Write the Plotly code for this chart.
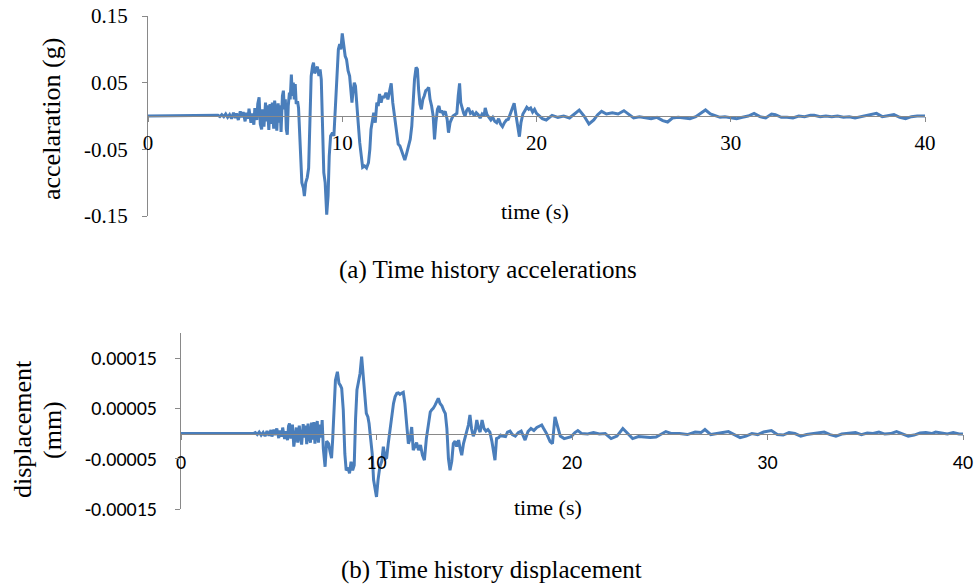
import plotly.graph_objects as go

# ---------------- data ----------------
acc_t = [0, 3.5, 3.6, 3.7, 3.8, 3.9, 4.0, 4.1, 4.2, 4.3, 4.4, 4.5, 4.55, 4.65, 4.75, 4.8,
         4.9, 5.0, 5.05, 5.15, 5.2, 5.3, 5.35, 5.45, 5.5, 5.6, 5.65, 5.72, 5.78, 5.85,
         5.9, 5.97, 6.05, 6.1, 6.15, 6.22, 6.28, 6.35, 6.4, 6.47, 6.52, 6.58, 6.63, 6.7,
         6.75, 6.8, 6.85, 6.92, 6.97, 7.02, 7.07, 7.12, 7.17, 7.22, 7.28, 7.32, 7.38,
         7.43, 7.48, 7.53, 7.58, 7.63, 7.7, 7.75,
         7.85, 7.92, 8.0, 8.05, 8.12, 8.2, 8.27, 8.33, 8.4, 8.47, 8.52, 8.58, 8.65, 8.72,
         8.8, 8.86, 8.92, 8.98, 9.05, 9.12, 9.2, 9.27, 9.33, 9.4, 9.5, 9.57, 9.65, 9.72,
         9.8, 9.87, 9.93, 10.0, 10.07, 10.15, 10.22, 10.3, 10.38, 10.45, 10.5, 10.55,
         10.62, 10.68, 10.75, 10.82, 10.9, 10.98, 11.05, 11.15, 11.25, 11.35, 11.42,
         11.48, 11.55, 11.62, 11.7, 11.78, 11.85, 11.92, 12.0, 12.08, 12.15, 12.25,
         12.35, 12.45, 12.52, 12.6, 12.7, 12.8, 12.88, 12.97, 13.05, 13.13, 13.22, 13.3,
         13.4, 13.5, 13.58, 13.65, 13.72, 13.8, 13.87, 13.93, 14.0, 14.07, 14.15, 14.22,
         14.3, 14.38, 14.45, 14.52, 14.6, 14.68, 14.75, 14.82, 14.9, 14.98, 15.05, 15.12,
         15.2, 15.3, 15.4, 15.47, 15.55, 15.62, 15.7, 15.8, 15.9, 15.97, 16.04, 16.1,
         16.18, 16.25, 16.32, 16.4, 16.5, 16.6, 16.7, 16.8, 16.9, 17.0, 17.1, 17.2, 17.3,
         17.36, 17.45, 17.55, 17.65, 17.75, 17.85, 17.95, 18.05, 18.15, 18.25, 18.35,
         18.45, 18.55, 18.65, 18.75, 18.85, 18.95, 19.05, 19.12, 19.2, 19.3, 19.4, 19.5,
         19.6, 19.7, 19.8, 19.9, 20.0, 20.3, 20.5, 20.8, 21.1, 21.4, 21.7, 22.0, 22.2,
         22.45, 22.7, 22.95, 23.15, 23.35, 23.6, 23.9, 24.2, 24.5, 24.8, 25.0, 25.3, 25.6,
         25.9, 26.2, 26.5, 26.75, 27.0, 27.3, 27.6, 27.9, 28.2, 28.5, 28.7, 28.95, 29.2,
         29.45, 29.7, 30.0, 30.3, 30.6, 30.9, 31.2, 31.5, 31.8, 32.1, 32.3, 32.6, 32.9,
         33.2, 33.5, 33.8, 34.1, 34.3, 34.6, 34.9, 35.2, 35.5, 35.8, 36.1, 36.4, 36.7,
         37.0, 37.3, 37.5, 37.8, 38.1, 38.4, 38.7, 39.0, 39.3, 39.6, 40.0]
acc_g = [0, 0, 0.001, -0.001, 0.002, -0.001, 0.003, -0.002, 0.002, -0.004, 0.005, -0.003,
         0.004, -0.006, 0.007, -0.002, 0.006, -0.008, 0.005, -0.004, 0.011, -0.01, 0.004,
         -0.013, 0.012, -0.006, 0.018, 0.028, -0.012, -0.02, 0.01, -0.016, 0.02, -0.008,
         0.016, -0.021, 0.018, -0.012, 0.02, -0.019, 0.023, 0.005, -0.022, 0.019, -0.01,
         0.016, -0.024, 0.03, 0.038, 0.01, 0.025, -0.02, -0.028, 0.015, 0.035, 0.025,
         0.062, 0.03, 0.05, 0.025, 0.048, 0.018, 0.022, 0.012,
         -0.06, -0.1, -0.108, -0.12, -0.1, -0.092, -0.078, -0.02, 0.06, 0.075, 0.08, 0.064,
         0.07, 0.074, 0.06, 0.07, 0.055, -0.02, -0.085, -0.1, -0.148, -0.12, -0.06, -0.03,
         -0.025, -0.03, 0.02, 0.07, 0.1, 0.108, 0.1, 0.124, 0.11, 0.09, 0.085, 0.068, 0.06,
         0.03, 0.02, 0.035, 0.05, 0.045, 0.012, -0.01, -0.04, -0.065, -0.077, -0.075,
         -0.078, -0.07, -0.05, -0.02, -0.005, 0.005, -0.01, 0.02, 0.015, 0.033, 0.02, 0.03,
         0.027, 0.035, 0.025, 0.04, 0.049, 0.02, -0.005, -0.03, -0.042, -0.045, -0.052,
         -0.06, -0.066, -0.058, -0.045, -0.035, -0.015, 0.025, 0.055, 0.073, 0.07, 0.04,
         0.018, 0.01, 0.025, 0.03, 0.038, 0.04, 0.043, 0.025, 0.015, 0.0, -0.035, -0.01,
         0.01, 0.015, 0.005, 0.008, 0.003, 0.007, -0.005, -0.025, -0.01, -0.005, 0.0,
         0.002, 0.004, 0.03, 0.049, 0.02, 0.01, 0.004, 0.0, 0.008, 0.012, 0.004, 0.006,
         0.0, 0.005, 0.002, -0.003, 0.003, 0.0, 0.012, 0.002, -0.003, -0.006, -0.002,
         -0.008, -0.01, -0.004, -0.012, -0.016, -0.01, -0.006, -0.005, 0.003, 0.012, 0.019,
         0.0, -0.02, -0.031, -0.01, 0.003, 0.008, 0.013, 0.01, 0.012, 0.006, 0.01, 0.004,
         -0.004, -0.006, 0.001, -0.002, 0.0, -0.003, 0.004, 0.009, 0.0, -0.012, -0.006,
         0.002, 0.007, 0.003, 0.005, 0.003, 0.008, 0.002, -0.003, -0.001, -0.002, -0.004,
         -0.002, -0.007, -0.009, -0.003, -0.002, -0.003, -0.004, -0.001, 0.005, 0.009,
         0.003, 0.0, -0.002, -0.001, -0.003, -0.004, -0.002, 0.0, 0.004, -0.001, -0.003,
         0.003, 0.002, -0.002, -0.002, -0.003, 0.0, -0.001, 0.001, 0.001, -0.001, 0.0,
         -0.001, 0.0, -0.002, -0.001, -0.003, -0.001, 0.0, 0.003, 0.004, -0.001, 0.0,
         0.002, -0.002, -0.004, -0.001, 0.0, 0.0]

disp_t = [0, 3.7, 3.8, 3.9, 4.0, 4.1, 4.2, 4.3, 4.4, 4.5, 4.6, 4.65, 4.75, 4.8, 4.9, 5.0,
          5.05, 5.15, 5.2, 5.3, 5.35, 5.45, 5.5, 5.55, 5.62, 5.7, 5.77, 5.82, 5.9, 5.97,
          6.05, 6.1, 6.17, 6.25, 6.3, 6.37, 6.43, 6.5, 6.55, 6.62, 6.68, 6.73, 6.8, 6.85,
          6.92, 6.97, 7.03, 7.1, 7.17, 7.22, 7.28, 7.37, 7.45, 7.55, 7.62, 7.7, 7.76, 7.83,
          7.9, 8.0,
          8.08, 8.15, 8.22, 8.3, 8.38, 8.45, 8.55, 8.62, 8.7, 8.78, 8.86, 8.93, 9.0, 9.08,
          9.16, 9.24, 9.32, 9.4, 9.48, 9.56, 9.62, 9.7, 9.78, 9.85, 9.92, 10.0, 10.08,
          10.17, 10.27, 10.35, 10.45, 10.52, 10.6, 10.7, 10.78, 10.87, 10.95, 11.04, 11.12,
          11.2, 11.28, 11.37, 11.45, 11.55, 11.63, 11.72, 11.8, 11.88, 11.97, 12.05, 12.15,
          12.25, 12.35, 12.45, 12.55, 12.65, 12.75, 12.82, 12.9, 12.99, 13.08, 13.16,
          13.25, 13.35, 13.45, 13.52, 13.6, 13.68, 13.76, 13.85, 13.93, 14.02, 14.1, 14.2,
          14.28, 14.36, 14.45, 14.55, 14.63, 14.7, 14.78, 14.86, 14.95, 15.05, 15.13,
          15.22, 15.3, 15.4, 15.5, 15.6, 15.7, 15.8, 15.9, 15.98, 16.06, 16.14, 16.25,
          16.35, 16.45, 16.6, 16.7, 16.83, 16.95, 17.1, 17.25, 17.4, 17.6, 17.75, 17.9,
          18.05, 18.2, 18.35, 18.45, 18.55, 18.7, 18.88, 19.0, 19.13, 19.25, 19.4, 19.6,
          19.8, 19.96, 20.15, 20.3, 20.5, 20.8, 21.1, 21.4, 21.7, 22.0, 22.3, 22.6, 22.85,
          23.1, 23.4, 23.7, 24.0, 24.3, 24.6, 24.8, 25.1, 25.5, 25.9, 26.3, 26.6, 26.8,
          27.1, 27.4, 27.7, 28.0, 28.3, 28.6, 28.9, 29.2, 29.5, 29.8, 30.2, 30.5, 30.8,
          31.1, 31.4, 31.7, 32.0, 32.3, 32.6, 32.9, 33.2, 33.5, 33.8, 34.2, 34.5, 34.8,
          35.1, 35.4, 35.7, 36.0, 36.3, 36.6, 36.9, 37.2, 37.5, 37.8, 38.1, 38.4, 38.6,
          38.9, 39.2, 39.5, 39.8, 40.0]
disp_mm = [0, 0, 0.2e-5, -0.2e-5, 0.3e-5, -0.3e-5, 0.2e-5, -0.5e-5, 0.5e-5, -0.4e-5,
           0.7e-5, -0.6e-5, 0.8e-5, -0.3e-5, 1.0e-5, -0.9e-5, 0.6e-5, -0.6e-5, 1.2e-5,
           -1.1e-5, 0.5e-5, -1.3e-5, 1.5e-5, 2.0e-5, -1.0e-5, 1.8e-5, -2.6e-5, -1.0e-5,
           1.2e-5, -1.8e-5, 1.6e-5, -0.5e-5, -2.2e-5, 1.9e-5, -0.8e-5, 1.6e-5, -2.1e-5,
           2.0e-5, -0.5e-5, -1.8e-5, 2.2e-5, -1.2e-5, 2.3e-5, -2.0e-5, 1.5e-5, 2.5e-5,
           -1.8e-5, 1.8e-5, -0.8e-5, 2.7e-5, -3.0e-5, -6.6e-5, -1.5e-5, -2.0e-5, -3.5e-5,
           -4.9e-5, -1.0e-5, 6.0e-5, 10.6e-5, 12.3e-5,
           10.0e-5, 9.6e-5, 9.0e-5, 4.7e-5, -4.0e-5, -7.3e-5, -6.8e-5, -7.9e-5, -5.6e-5,
           -7.3e-5, -6.3e-5, 3.0e-5, 8.7e-5, 10.3e-5, 12.0e-5, 15.3e-5, 11.0e-5, 8.3e-5,
           4.0e-5, 3.3e-5, 2.0e-5, -1.0e-5, -4.0e-5, -9.2e-5, -11.0e-5, -12.6e-5, -9.2e-5,
           -6.6e-5, -5.5e-5, -2.6e-5, -5.0e-5, -4.8e-5, -2.0e-5, 1.0e-5, 3.3e-5, 6.0e-5,
           7.3e-5, 8.0e-5, 8.1e-5, 7.8e-5, 8.0e-5, 8.2e-5, 6.0e-5, 2.0e-5, -2.0e-5,
           -1.0e-5, 1.3e-5, -3.3e-5, -2.5e-5, -1.8e-5, -3.3e-5, -2.3e-5, -4.3e-5, -5.3e-5,
           -1.0e-5, 2.0e-5, 4.3e-5, 4.7e-5, 5.0e-5, 5.6e-5, 6.3e-5, 7.0e-5, 6.0e-5,
           5.5e-5, 4.5e-5, 4.0e-5, 1.0e-5, -5.0e-5, -7.3e-5, -5.5e-5, -2.0e-5, -1.5e-5,
           -2.6e-5, -1.3e-5, -3.0e-5, -4.3e-5, -2.0e-5, -0.5e-5, 1.0e-5, 1.7e-5, 3.7e-5,
           1.0e-5, -0.5e-5, 0.5e-5, 2.7e-5, 1.0e-5, 0.3e-5, 2.7e-5, 1.0e-5, 0.5e-5,
           0.8e-5, 0.3e-5, -1.5e-5, -3.6e-5, -5.3e-5, -1.0e-5, -0.8e-5, -0.3e-5, -0.5e-5,
           -0.6e-5, 0.3e-5, 0.5e-5, -0.2e-5, -0.5e-5, 0.2e-5, 0.5e-5, -1.3e-5, 0.4e-5,
           1.0e-5, 0.6e-5, 1.2e-5, 1.5e-5, 1.7e-5, 1.0e-5, 0.0, -1.6e-5, -2.0e-5, 3.3e-5,
           1.5e-5, -0.5e-5, -1.0e-5, -0.7e-5, -0.6e-5, 0.2e-5, 0.6e-5, 0.0, -0.1e-5,
           0.2e-5, -0.1e-5, 0.0, -1.0e-5, -0.5e-5, 1.0e-5, 0.0, -1.0e-5, -0.6e-5, -0.7e-5,
           -0.8e-5, -0.7e-5, 0.0, 0.4e-5, 0.0, 0.0, -0.2e-5, 0.3e-5, 0.2e-5, 0.8e-5,
           -0.2e-5, 0.0, 0.3e-5, 0.4e-5, -0.2e-5, -0.8e-5, -0.5e-5, 0.0, -0.2e-5, 0.3e-5,
           0.6e-5, -0.2e-5, -0.3e-5, 0.2e-5, 0.0, -0.5e-5, -0.2e-5, 0.0, 0.2e-5, 0.3e-5,
           -0.2e-5, -0.5e-5, -0.1e-5, 0.0, 0.2e-5, -0.2e-5, 0.1e-5, 0.0, 0.3e-5, -0.1e-5,
           0.0, 0.4e-5, 0.0, -0.5e-5, -0.3e-5, 0.1e-5, 0.2e-5, 0.0, 0.3e-5, 0.1e-5,
           -0.1e-5, 0.2e-5, -0.1e-5, -0.1e-5]

x_ticks = [0, 10, 20, 30, 40]
acc_ticks = [-0.15, -0.05, 0.05, 0.15]
acc_tick_labels = ["-0.15", "-0.05", "0.05", "0.15"]
disp_ticks = [-0.00015, -0.00005, 0.00005, 0.00015]
disp_tick_labels = ["-0.00015", "-0.00005", "0.00005", "0.00015"]

# ---------------- layout helpers ----------------
W, H = 976, 588
SERIF = "Liberation Serif, Times New Roman, serif"
SANS = "Carlito, Lato, sans-serif"
LINE = "#4A7EBB"
AX = "#898989"


def px(x):
    return x / W


def py(y):
    return 1 - y / H


acc_range = [-0.15, 0.15]
disp_range = [-0.00015, 0.0002]
top_dom_x = [px(148), px(925)]
top_dom_y = [py(216), py(16)]
bot_dom_x = [px(181), px(963)]
bot_dom_y = [py(509), py(333)]


def zero_pos(dom, rng):
    return dom[0] + (0 - rng[0]) / (rng[1] - rng[0]) * (dom[1] - dom[0])


fig = go.Figure()
fig.add_trace(go.Scatter(x=acc_t, y=acc_g, mode="lines", xaxis="x", yaxis="y",
                         line=dict(color=LINE, width=3), showlegend=False))
fig.add_trace(go.Scatter(x=disp_t, y=disp_mm, mode="lines", xaxis="x2", yaxis="y2",
                         line=dict(color=LINE, width=3), showlegend=False))

common_x = dict(range=[0, 40], tickvals=x_ticks, showline=True, linecolor=AX, linewidth=1,
                ticks="outside", ticklen=5, tickcolor=AX, showgrid=False, zeroline=False,
                fixedrange=True, automargin=False)
common_y = dict(showline=True, linecolor=AX, linewidth=1, ticks="outside", ticklen=5,
                tickcolor=AX, showgrid=False, zeroline=False, fixedrange=True,
                automargin=False)

fig.update_layout(
    width=W, height=H, autosize=False,
    margin=dict(l=0, r=0, t=0, b=0, pad=0),
    paper_bgcolor="white", plot_bgcolor="white",
    xaxis=dict(common_x, domain=top_dom_x, anchor="free",
               position=zero_pos(top_dom_y, acc_range),
               tickfont=dict(family=SERIF, size=21, color="black"), ticklabelstandoff=3),
    yaxis=dict(common_y, domain=top_dom_y, anchor="x", range=acc_range,
               tickvals=acc_ticks, ticktext=acc_tick_labels,
               tickfont=dict(family=SERIF, size=21, color="black"), ticklabelstandoff=10),
    xaxis2=dict(common_x, domain=bot_dom_x, anchor="free",
                position=zero_pos(bot_dom_y, disp_range),
                tickfont=dict(family=SANS, size=20, color="black"), ticklabelstandoff=5),
    yaxis2=dict(common_y, domain=bot_dom_y, anchor="x2", range=disp_range,
                tickvals=disp_ticks, ticktext=disp_tick_labels,
                tickfont=dict(family=SANS, size=20, color="black"), ticklabelstandoff=14),
)


def label(text, x, y, size, angle=0, family=SERIF):
    fig.add_annotation(text=text, x=px(x), y=py(y), xref="paper", yref="paper",
                       showarrow=False, xanchor="center", yanchor="middle",
                       textangle=angle, font=dict(family=family, size=size, color="black"))


label("accelaration (g)", 52, 119, 26, angle=-90)
label("time (s)", 535, 211, 22)
label("(a) Time history accelerations", 488, 270, 25)
label("displacement", 22, 429, 26, angle=-90)
label("(mm)", 52, 430, 26, angle=-90)
label("time (s)", 548, 507, 22)
label("(b) Time history displacement", 492, 570, 25)

fig.write_html("out.html")
